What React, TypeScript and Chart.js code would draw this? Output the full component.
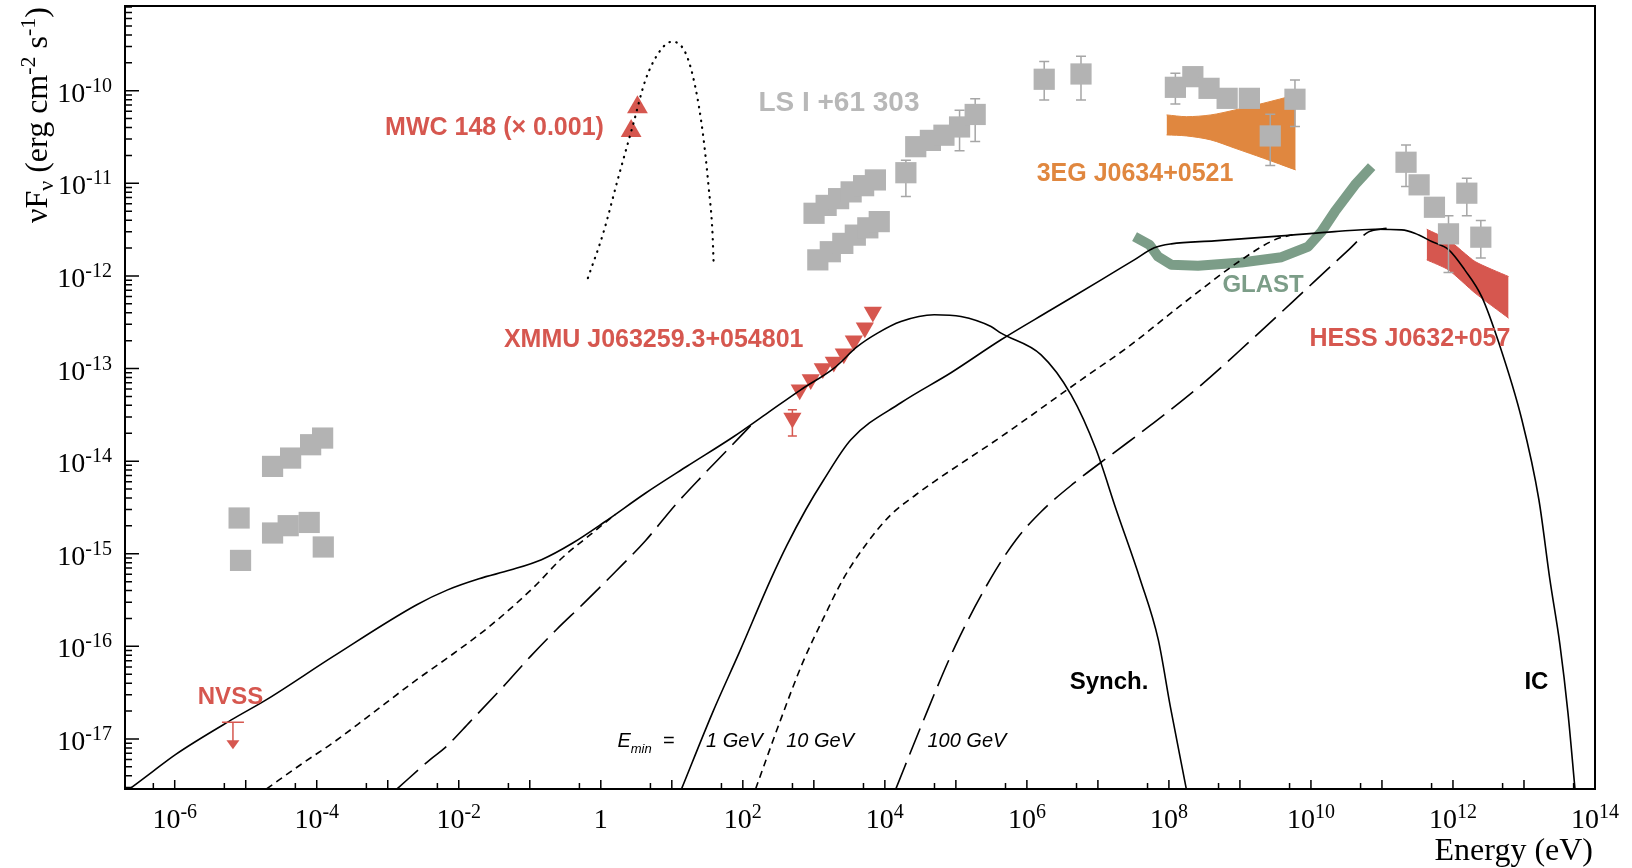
import React, { useEffect, useRef } from "react";
import { Chart, registerables } from "chart.js";

Chart.register(...registerables);

// ---------------- axis ranges (log10 units) ----------------
const xLogRange = [-6.7, 14];
const yLogRange = [-17.54, -9.086];
const xLabelExps = [-6, -4, -2, 0, 2, 4, 6, 8, 10, 12, 14];
const yLabelExps = [-17, -16, -15, -14, -13, -12, -11, -10];

// ---------------- model curves (log10 E [eV], log10 nuFnu) ----------------
// Synchrotron, E_min = 1 GeV (solid)
const synch1LogE = [-6.635, -6.306, -5.99, -5.178, -4.707, -3.767, -2.591, -2.157, -1.715, -1.275, -0.835, -0.395, 0.047, 0.633, 1.22, 1.874, 2.346, 2.815, 3.285, 3.615, 3.897, 4.226, 4.695, 5.072, 5.495, 5.636, 6.2, 6.623, 6.976, 7.258, 7.597, 7.85, 8.02, 8.245];
const synch1LogF = [-17.539, -17.349, -17.168, -16.783, -16.575, -16.108, -15.55, -15.39, -15.27, -15.176, -15.064, -14.884, -14.66, -14.344, -14.053, -13.734, -13.481, -13.23, -12.996, -12.762, -12.618, -12.493, -12.42, -12.439, -12.547, -12.618, -12.852, -13.284, -13.877, -14.525, -15.28, -15.928, -16.65, -17.539];
// Synchrotron, E_min = 10 GeV (short dashed)
const synch10LogE = [-4.707, -4.19, -3.767, -3.296, -2.591, -2.192, -1.571, -0.937, -0.542, -0.147, 0.206];
const synch10LogF = [-17.539, -17.258, -17.039, -16.769, -16.359, -16.143, -15.787, -15.356, -15.043, -14.794, -14.574];
// Synchrotron, E_min = 100 GeV (long dashed)
const synch100LogE = [-2.869, -2.403, -2.192, -1.839, -1.374, -0.993, -0.626, -0.245, 0.206, 0.629, 1.052, 1.405, 1.758, 2.11];
const synch100LogF = [-17.539, -17.222, -17.093, -16.812, -16.435, -16.111, -15.82, -15.539, -15.194, -14.859, -14.471, -14.179, -13.899, -13.618];
// Inverse Compton, E_min = 1 GeV (solid)
const ic1LogE = [1.137, 1.574, 1.955, 2.392, 2.618, 2.886, 3.14, 3.521, 4.226, 4.931, 5.636, 6.341, 7.046, 7.512, 7.794, 8.034, 8.64, 9.585, 10.333, 10.897, 11.278, 11.461, 11.701, 11.941, 12.166, 12.406, 12.646, 12.97, 13.21, 13.365, 13.506, 13.619, 13.718];
const ic1LogF = [-17.539, -16.715, -16.057, -15.28, -14.913, -14.525, -14.201, -13.769, -13.37, -13.046, -12.69, -12.366, -12.043, -11.827, -11.697, -11.654, -11.622, -11.568, -11.522, -11.496, -11.503, -11.539, -11.629, -11.719, -11.935, -12.226, -12.723, -13.553, -14.417, -15.28, -15.981, -16.715, -17.539];
// Inverse Compton, E_min = 10 GeV (short dashed)
const ic10LogE = [2.18, 2.533, 2.843, 3.125, 3.408, 3.732, 4.085, 4.437, 4.691, 5.636, 6.764, 7.427, 8.175, 9.021, 9.487, 9.797];
const ic10LogF = [-17.539, -16.791, -16.176, -15.712, -15.28, -14.902, -14.579, -14.363, -14.223, -13.737, -13.122, -12.766, -12.313, -11.827, -11.611, -11.546];
// Inverse Compton, E_min = 100 GeV (long dashed)
const ic100LogE = [4.155, 4.508, 4.987, 5.481, 5.848, 6.2, 6.652, 7.188, 7.752, 8.457, 9.162, 9.726, 10.53, 10.812, 11.066];
const ic100LogF = [-17.539, -16.866, -16.003, -15.28, -14.848, -14.546, -14.244, -13.931, -13.607, -13.176, -12.69, -12.291, -11.719, -11.525, -11.487];
// MWC 148 stellar spectrum (dotted, x 0.001)
const mwcCurveLogE = [-0.182, 0.034, 0.25, 0.45, 0.629, 0.843, 1.006, 1.195, 1.33, 1.437, 1.518, 1.573, 1.588];
const mwcCurveLogF = [-12.024, -11.539, -10.928, -10.38, -9.885, -9.561, -9.471, -9.596, -9.957, -10.46, -11.036, -11.539, -11.845];

// ---------------- measurements ----------------
// GLAST sensitivity
const glastLogE = [7.516, 7.728, 7.846, 8.034, 8.41, 9.021, 9.585, 9.962, 10.149, 10.337, 10.619, 10.855];
const glastLogF = [-11.575, -11.665, -11.791, -11.88, -11.891, -11.856, -11.798, -11.683, -11.522, -11.306, -11.018, -10.82];
// 3EG J0634+0521 butterfly
const egretLogE = [7.967, 8.25, 8.591, 8.932, 9.33, 9.785];
const egretUpLogF = [-10.262, -10.281, -10.262, -10.208, -10.136, -10.046];
const egretLoLogF = [-10.478, -10.489, -10.532, -10.622, -10.729, -10.856];
// HESS J0632+057 butterfly
const hessLogE = [11.63, 11.936, 12.312, 12.783];
const hessUpLogF = [-11.496, -11.611, -11.845, -12.007];
const hessLoLogF = [-11.827, -11.935, -12.186, -12.456];
// XMMU J063259.3+054801
const xmmLogE = [2.801, 2.956, 3.126, 3.281, 3.422, 3.563, 3.718, 3.831];
const xmmLogF = [-13.23, -13.12, -13.0, -12.93, -12.84, -12.7, -12.56, -12.39];
const xmmSingleLogE = [2.698];
const xmmSingleLogF = [-13.535];
const xmmSingleErrHi = [-13.446];
const xmmSingleErrLo = [-13.73];
// MWC 148 points (x 0.001)
const mwcLogE = [0.516, 0.427];
const mwcLogF = [-10.178, -10.436];
// NVSS upper limit
const nvssLogE = [-5.18];
const nvssLogF = [-16.82];
// LS I +61 303 (grey squares)
const lsiLogE = [-5.093, -5.073, -4.622, -4.368, -4.086, -3.917, -4.622, -4.402, -4.106, -3.908,
  3.003, 3.173, 3.349, 3.525, 3.701, 3.867, 3.056, 3.232, 3.408, 3.584, 3.76, 3.921,
  4.296, 4.435, 4.641, 4.832, 5.052, 5.272,
  6.244, 6.762, 8.091, 8.337, 8.565, 8.82, 9.133, 9.427, 9.775,
  11.339, 11.523, 11.739, 11.937, 12.195, 12.392];
const lsiLogF = [-14.614, -15.072, -14.057, -13.967, -13.823, -13.751, -14.776, -14.697, -14.662, -14.927,
  -11.324, -11.239, -11.166, -11.093, -11.026, -10.964, -11.827, -11.739, -11.649, -11.56, -11.481, -11.414,
  -10.886, -10.605, -10.537, -10.481, -10.392, -10.257,
  -9.877, -9.82, -9.964, -9.849, -9.975, -10.083, -10.083, -10.489, -10.093,
  -10.773, -11.017, -11.259, -11.546, -11.107, -11.582];
const N = null;
const lsiErrHi = [N, N, N, N, N, N, N, N, N, N,
  N, N, N, N, N, N, N, N, N, N, N, N,
  -10.751, N, N, N, -10.212, -10.088,
  -9.684, -9.628, -9.812, N, N, N, N, -10.254, -9.885,
  -10.586, N, N, -11.352, -10.945, -11.402];
const lsiErrLo = [N, N, N, N, N, N, N, N, N, N,
  N, N, N, N, N, N, N, N, N, N, N, N,
  -11.144, N, N, N, -10.65, -10.549,
  -10.1, -10.1, -10.144, N, N, N, N, -10.809, -10.388,
  -11.036, N, N, -11.964, -11.352, -11.807];

// ---------------- styles ----------------
const RED = "#d6574f";
const ORANGE = "#e0873f";
const GREEN = "#7c9d88";
const GRAY = "#b3b3b3";
const ERRGRAY = "#a6a6a6";
const SERIF = '"Liberation Serif", "Times New Roman", serif';
const SANS = '"Liberation Sans", Arial, sans-serif';

const labelSpecs = [
  { text: "MWC 148 (\u00d7 0.001)", logE: -3.038, logF: -10.381, color: RED, size: 25 },
  { text: "LS I +61 303", logE: 2.219, logF: -10.111, color: "#b8b8b8", size: 28 },
  { text: "3EG J0634+0521", logE: 6.138, logF: -10.874, color: ORANGE, size: 25 },
  { text: "XMMU J063259.3+054801", logE: -1.364, logF: -12.672, color: RED, size: 25 },
  { text: "GLAST", logE: 8.753, logF: -12.086, color: GREEN, size: 24 },
  { text: "HESS J0632+057", logE: 9.98, logF: -12.663, color: RED, size: 25 },
  { text: "NVSS", logE: -5.675, logF: -16.526, color: RED, size: 24 },
  { text: "Synch.", logE: 6.602, logF: -16.37, color: "#000", size: 24 },
  { text: "IC", logE: 13.006, logF: -16.37, color: "#000", size: 24 },
];
const eminSpecs = [
  { text: "1 GeV", logE: 1.482 },
  { text: "10 GeV", logE: 2.611 },
  { text: "100 GeV", logE: 4.599 },
];
const eminLabelPos = { logE: 0.234, logF: -17.007 };

const P = (v: number) => Math.pow(10, v);
const toPts = (le: number[], lf: number[]) => le.map((e, i) => ({ x: P(e), y: P(lf[i]) }));

type Part = { t: string; font: string; dy: number };
function drawParts(ctx: CanvasRenderingContext2D, parts: Part[], x: number, y: number, align: string) {
  let total = 0;
  const widths = parts.map((p) => {
    ctx.font = p.font;
    const w = ctx.measureText(p.t).width;
    total += w;
    return w;
  });
  let cx = align === "center" ? x - total / 2 : align === "right" ? x - total : x;
  ctx.textAlign = "left";
  ctx.textBaseline = "alphabetic";
  parts.forEach((p, i) => {
    ctx.font = p.font;
    ctx.fillText(p.t, cx, y + p.dy);
    cx += widths[i];
  });
}

function drawErrorBars(chart: any, le: number[], hi: (number | null)[], lo: (number | null)[], color: string, cap: number) {
  const ctx = chart.ctx as CanvasRenderingContext2D;
  const xs = chart.scales.x;
  const ys = chart.scales.y;
  ctx.save();
  ctx.strokeStyle = color;
  ctx.lineWidth = 1.5;
  for (let i = 0; i < le.length; i++) {
    const h = hi[i];
    const l = lo[i];
    if (h == null || l == null) continue;
    const px = xs.getPixelForValue(P(le[i]));
    const y1 = ys.getPixelForValue(P(h));
    const y2 = ys.getPixelForValue(P(l));
    ctx.beginPath();
    ctx.moveTo(px, y1);
    ctx.lineTo(px, y2);
    ctx.moveTo(px - cap, y1);
    ctx.lineTo(px + cap, y1);
    ctx.moveTo(px - cap, y2);
    ctx.lineTo(px + cap, y2);
    ctx.stroke();
  }
  ctx.restore();
}

const sedPlugin = {
  id: "sedDecor",
  beforeDatasetDraw(chart: any, args: any) {
    const ds = chart.data.datasets[args.index];
    if (ds.label === "LS I +61 303") drawErrorBars(chart, lsiLogE, lsiErrHi, lsiErrLo, ERRGRAY, 5);
    if (ds.label === "XMMU single") drawErrorBars(chart, xmmSingleLogE, xmmSingleErrHi, xmmSingleErrLo, RED, 4.5);
  },
  afterDraw(chart: any) {
    const ctx = chart.ctx as CanvasRenderingContext2D;
    const xs = chart.scales.x;
    const ys = chart.scales.y;
    const { left, right, top, bottom } = chart.chartArea;
    ctx.save();

    // NVSS upper limit
    ctx.strokeStyle = RED;
    ctx.fillStyle = RED;
    ctx.lineWidth = 1.5;
    nvssLogE.forEach((e, i) => {
      const px = xs.getPixelForValue(P(e));
      const py = ys.getPixelForValue(P(nvssLogF[i]));
      ctx.beginPath();
      ctx.moveTo(px - 11, py);
      ctx.lineTo(px + 11, py);
      ctx.moveTo(px, py);
      ctx.lineTo(px, py + 19);
      ctx.stroke();
      ctx.beginPath();
      ctx.moveTo(px - 6.5, py + 18);
      ctx.lineTo(px + 6.5, py + 18);
      ctx.lineTo(px, py + 27);
      ctx.closePath();
      ctx.fill();
    });

    // annotations
    labelSpecs.forEach((s) => {
      const px = xs.getPixelForValue(P(s.logE));
      const py = ys.getPixelForValue(P(s.logF));
      ctx.fillStyle = s.color;
      ctx.font = `bold ${s.size}px ${SANS}`;
      ctx.textAlign = "left";
      ctx.textBaseline = "alphabetic";
      ctx.fillText(s.text, px, py + s.size * 0.358);
    });
    ctx.fillStyle = "#000";
    {
      const px = xs.getPixelForValue(P(eminLabelPos.logE));
      const py = ys.getPixelForValue(P(eminLabelPos.logF)) + 7.5;
      drawParts(ctx, [
        { t: "E", font: `italic 20px ${SANS}`, dy: 0 },
        { t: "min", font: `italic 13px ${SANS}`, dy: 6 },
        { t: "  =", font: `italic 20px ${SANS}`, dy: 0 },
      ], px, py, "left");
      eminSpecs.forEach((s) => {
        ctx.font = `italic 20px ${SANS}`;
        ctx.textAlign = "left";
        ctx.fillText(s.text, xs.getPixelForValue(P(s.logE)), py);
      });
    }

    // frame
    ctx.strokeStyle = "#000";
    ctx.lineWidth = 2;
    ctx.strokeRect(left, top, right - left, bottom - top);

    // x ticks
    ctx.lineWidth = 1.5;
    ctx.beginPath();
    for (let e = Math.floor(xLogRange[0]) - 1; e <= xLogRange[1]; e++) {
      [[1, 9], [5, 6]].forEach(([k, len]) => {
        const v = k * P(e);
        const lv = Math.log10(v);
        if (lv < xLogRange[0] || lv > xLogRange[1] - 1e-6) return;
        const px = xs.getPixelForValue(v);
        ctx.moveTo(px, bottom);
        ctx.lineTo(px, bottom - len);
      });
    }
    // y ticks
    for (let e = Math.floor(yLogRange[0]) - 1; e <= yLogRange[1]; e++) {
      for (let k = 1; k <= 9; k++) {
        const v = k * P(e);
        const lv = Math.log10(v);
        if (lv < yLogRange[0] || lv > yLogRange[1]) continue;
        const py = ys.getPixelForValue(v);
        ctx.moveTo(left, py);
        ctx.lineTo(left + (k === 1 ? 14 : 7), py);
      }
    }
    ctx.stroke();

    // tick labels
    ctx.fillStyle = "#000";
    const baseF = `28px ${SERIF}`;
    const supF = `20px ${SERIF}`;
    xLabelExps.forEach((e) => {
      const px = xs.getPixelForValue(P(e));
      const parts: Part[] = e === 0 ? [{ t: "1", font: baseF, dy: 0 }] : [{ t: "10", font: baseF, dy: 0 }, { t: String(e), font: supF, dy: -10 }];
      drawParts(ctx, parts, px, bottom + 39, "center");
    });
    yLabelExps.forEach((e) => {
      const py = ys.getPixelForValue(P(e));
      drawParts(ctx, [{ t: "10", font: baseF, dy: 0 }, { t: String(e), font: supF, dy: -10 }], left - 13, py + 11, "right");
    });

    // axis titles
    const tF = `32px ${SERIF}`;
    const tS = `22px ${SERIF}`;
    drawParts(ctx, [{ t: "Energy (eV)", font: tF, dy: 0 }], right - 2, bottom + 71, "right");
    ctx.save();
    ctx.translate(47, top + 1);
    ctx.rotate(-Math.PI / 2);
    drawParts(ctx, [
      { t: "\u03bdF", font: tF, dy: 0 },
      { t: "\u03bd", font: tS, dy: 6 },
      { t: " (erg cm", font: tF, dy: 0 },
      { t: "-2", font: tS, dy: -12 },
      { t: " s", font: tF, dy: 0 },
      { t: "-1", font: tS, dy: -12 },
      { t: ")", font: tF, dy: 0 },
    ], 0, 0, "right");
    ctx.restore();

    ctx.restore();
  },
};

function curve(label: string, le: number[], lf: number[], dash: number[], order: number, extra: any = {}) {
  return {
    label,
    data: toPts(le, lf),
    borderColor: "#000",
    borderWidth: 1.6,
    borderDash: dash,
    pointRadius: 0,
    fill: false,
    cubicInterpolationMode: "monotone",
    order,
    ...extra,
  };
}

export default function App() {
  const ref = useRef<HTMLCanvasElement>(null);
  useEffect(() => {
    const SHORT = [7, 5];
    const LONG = [28, 9];
    const datasets: any[] = [
      { label: "3EG upper", data: toPts(egretLogE, egretUpLogF), fill: "+1", backgroundColor: ORANGE, borderColor: ORANGE, borderWidth: 1, pointRadius: 0, tension: 0.3, order: 100 },
      { label: "3EG lower", data: toPts(egretLogE, egretLoLogF), fill: false, borderColor: ORANGE, borderWidth: 1, pointRadius: 0, tension: 0.3, order: 100 },
      { label: "HESS upper", data: toPts(hessLogE, hessUpLogF), fill: "+1", backgroundColor: RED, borderColor: RED, borderWidth: 1, pointRadius: 0, tension: 0.2, order: 99 },
      { label: "HESS lower", data: toPts(hessLogE, hessLoLogF), fill: false, borderColor: RED, borderWidth: 1, pointRadius: 0, tension: 0.2, order: 99 },
      { label: "GLAST", data: toPts(glastLogE, glastLogF), fill: false, borderColor: GREEN, borderWidth: 10, borderJoinStyle: "round", pointRadius: 0, tension: 0, order: 90 },
      { label: "XMMU J063259.3+054801", data: toPts(xmmLogE, xmmLogF), showLine: false, pointStyle: "triangle", pointRotation: 180, pointRadius: 10.5, backgroundColor: RED, borderWidth: 0, order: 50 },
      { label: "XMMU single", data: toPts(xmmSingleLogE, xmmSingleLogF), showLine: false, pointStyle: "triangle", pointRotation: 180, pointRadius: 10.5, backgroundColor: RED, borderWidth: 0, order: 50 },
      { label: "MWC 148", data: toPts(mwcLogE, mwcLogF), showLine: false, pointStyle: "triangle", pointRotation: 0, pointRadius: 12, backgroundColor: RED, borderWidth: 0, order: 50 },
      curve("Synch 1 GeV", synch1LogE, synch1LogF, [], 40),
      curve("Synch 10 GeV", synch10LogE, synch10LogF, SHORT, 40),
      curve("Synch 100 GeV", synch100LogE, synch100LogF, LONG, 40),
      curve("IC 1 GeV", ic1LogE, ic1LogF, [], 40),
      curve("IC 10 GeV", ic10LogE, ic10LogF, SHORT, 40),
      curve("IC 100 GeV", ic100LogE, ic100LogF, LONG, 40),
      curve("MWC 148 model", mwcCurveLogE, mwcCurveLogF, [0.5, 6.5], 40, { borderWidth: 2.2, borderCapStyle: "round" }),
      { label: "LS I +61 303", data: toPts(lsiLogE, lsiLogF), showLine: false, pointStyle: "rect", pointRadius: 15, backgroundColor: GRAY, borderWidth: 0, order: 20 },
    ];
    const chart = new Chart(ref.current as HTMLCanvasElement, {
      type: "line",
      data: { datasets },
      options: {
        animation: false,
        responsive: false,
        maintainAspectRatio: false,
        devicePixelRatio: 1,
        events: [],
        layout: { autoPadding: false, padding: { left: 125, right: 37, top: 6, bottom: 79 } },
        scales: {
          x: { type: "logarithmic", min: P(xLogRange[0]), max: P(xLogRange[1]), display: false },
          y: { type: "logarithmic", min: P(yLogRange[0]), max: P(yLogRange[1]), display: false },
        },
        plugins: { legend: { display: false }, tooltip: { enabled: false } },
      } as any,
      plugins: [sedPlugin as any],
    } as any);
    return () => chart.destroy();
  }, []);
  return (
    <div style={{ position: "absolute", left: 0, top: 0, width: 1632, height: 868, background: "#fff" }}>
      <canvas ref={ref} width={1632} height={868} style={{ display: "block" }} />
    </div>
  );
}
